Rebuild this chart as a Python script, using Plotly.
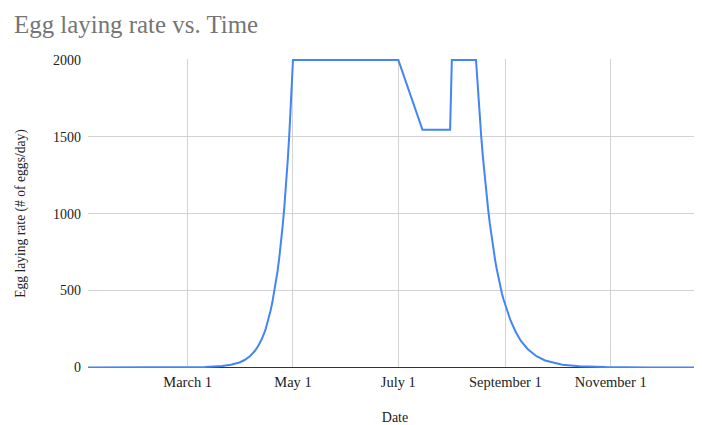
import plotly.graph_objects as go

# Data
dates = [
    "2021-01-01", "2021-02-01", "2021-03-01", "2021-03-11", "2021-03-21",
    "2021-03-26", "2021-03-31", "2021-04-03", "2021-04-06", "2021-04-09",
    "2021-04-11", "2021-04-13", "2021-04-15", "2021-04-17", "2021-04-18",
    "2021-04-19", "2021-04-20", "2021-04-21", "2021-04-22", "2021-04-23",
    "2021-04-24", "2021-04-25", "2021-04-26", "2021-04-27", "2021-04-28",
    "2021-04-29", "2021-04-30", "2021-05-01", "2021-07-01", "2021-07-15",
    "2021-07-31", "2021-08-01", "2021-08-15", "2021-08-16", "2021-08-17",
    "2021-08-18", "2021-08-19", "2021-08-20", "2021-08-21", "2021-08-22",
    "2021-08-23", "2021-08-24", "2021-08-25", "2021-08-26", "2021-08-27",
    "2021-08-28", "2021-08-29", "2021-08-30", "2021-08-31", "2021-09-02",
    "2021-09-04", "2021-09-07", "2021-09-10", "2021-09-14", "2021-09-19",
    "2021-09-24", "2021-10-04", "2021-10-14", "2021-10-29", "2021-11-23",
    "2021-12-31",
]
egg_rate = [
    0, 0, 1, 3, 9,
    17, 32, 48, 72, 108,
    142, 186, 242, 316, 369,
    420, 479, 545, 621, 707,
    805, 917, 1044, 1189, 1354,
    1542, 1756, 2000, 2000, 1545,
    1545, 2000, 2000, 1819, 1654,
    1504, 1368, 1244, 1131, 1029,
    935, 851, 773, 703, 640,
    582, 529, 481, 440, 368,
    305, 230, 172, 118, 73,
    45, 17, 7, 2, 0,
    0,
]

tick_dates = ["2021-03-01", "2021-05-01", "2021-07-01", "2021-09-01", "2021-11-01"]
tick_labels = ["March 1", "May 1", "July 1", "September 1", "November 1"]
y_ticks = [0, 500, 1000, 1500, 2000]

title_text = "Egg laying rate vs. Time"
x_title = "Date"
y_title = "Egg laying rate (# of eggs/day)"

FONT = "Liberation Serif, Times New Roman, serif"

fig = go.Figure()
fig.add_trace(go.Scatter(
    x=dates, y=egg_rate, mode="lines",
    line=dict(color="#4285F4", width=2),
    hoverinfo="skip", showlegend=False,
))

# The page body has an 8px margin, so the figure is sized to fill the rest.
fig.update_layout(
    width=694, height=417,
    margin=dict(l=80, r=0, t=50.5, b=57.4, autoexpand=False),
    paper_bgcolor="white", plot_bgcolor="white",
    font=dict(family=FONT, color="#222222", size=14),
    title=dict(
        text=title_text,
        font=dict(family=FONT, size=24.9, color="#757575"),
        xref="container", x=6 / 694, xanchor="left",
        yref="container", y=1 - 8 / 417, yanchor="top",
        automargin=False,
    ),
)

fig.update_xaxes(
    range=["2021-01-02 07:00", "2021-12-23 21:00"],
    tickvals=tick_dates, ticktext=tick_labels,
    tickfont=dict(size=14.5, color="#222222"),
    showgrid=True, gridcolor="#d3d3d3", gridwidth=1,
    zeroline=False, showline=False, ticks="", ticklabelstandoff=3,
    automargin=False,
    title=dict(text=x_title, font=dict(size=14, color="#222222"), standoff=24),
)

fig.update_yaxes(
    range=[-4, 2006],
    tickvals=y_ticks, ticktext=[str(v) for v in y_ticks],
    tickfont=dict(size=14, color="#222222"),
    showgrid=True, gridcolor="#d3d3d3", gridwidth=1,
    zeroline=True, zerolinecolor="#333333", zerolinewidth=1,
    showline=False, ticks="", ticklabelstandoff=6, automargin=False,
    title=dict(text=y_title, font=dict(size=13.6, color="#222222"), standoff=24),
)

fig.write_html("out.html")
